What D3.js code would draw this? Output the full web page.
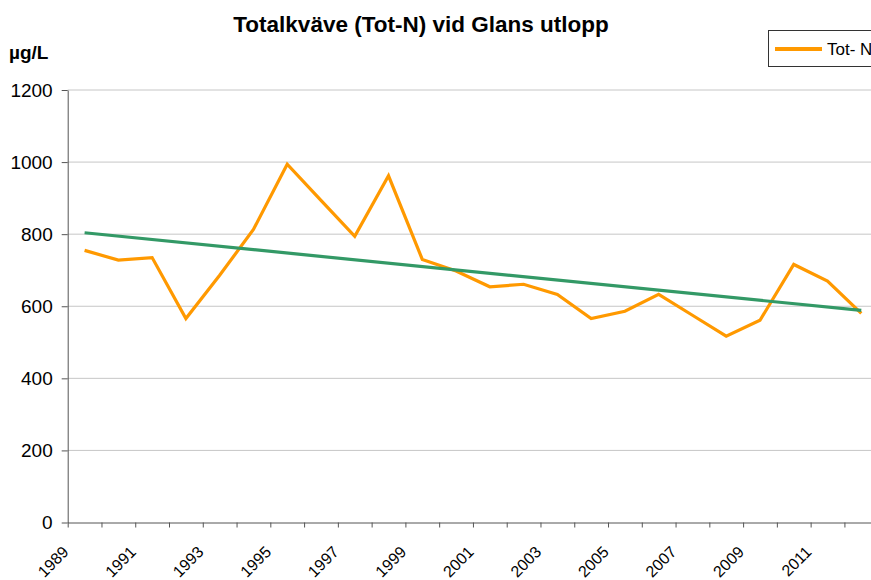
<!DOCTYPE html>
<html>
<head>
<meta charset="utf-8">
<script src="https://cdn.jsdelivr.net/npm/d3@7"></script>
<style>
  html, body { margin: 0; padding: 0; background: #fff; overflow: hidden; }
  svg { display: block; font-family: "Liberation Sans", Arial, sans-serif; }
</style>
</head>
<body>
<svg id="chart" width="871" height="580"></svg>
<script>
// ---- data ----
const years = [1989,1990,1991,1992,1993,1994,1995,1996,1997,1998,1999,2000,
               2001,2002,2003,2004,2005,2006,2007,2008,2009,2010,2011,2012];
const totN  = [755,728,735,566,686,813,994,894,794,962,730,698,
               654,661,633,566,586,633,575,517,561,716,670,580];
const yTicks = [0,200,400,600,800,1000,1200];
const xLabelYears = [1989,1991,1993,1995,1997,1999,2001,2003,2005,2007,2009,2011];
const titleText = "Totalkväve (Tot-N) vid Glans utlopp";
const unitText = "µg/L";
const legendLabel = "Tot- N";

// ---- layout ----
const svg = d3.select("#chart");
const plotLeft = 67.7, bandW = 33.77, plotTop = 90, plotBottom = 522.5;
const plotRight = plotLeft + years.length * bandW;

const x = d3.scaleBand().domain(years).range([plotLeft, plotRight]).padding(0);
const xc = d => x(d) + x.bandwidth() / 2;
const y = d3.scaleLinear().domain([0, 1200]).range([plotBottom, plotTop]);

// gridlines
svg.append("g").selectAll("line").data(yTicks.filter(v => v > 0)).join("line")
  .attr("x1", plotLeft).attr("x2", plotRight)
  .attr("y1", d => y(d)).attr("y2", d => y(d))
  .attr("stroke", "#c6c6c6").attr("stroke-width", 1);

// y axis
const yAxis = svg.append("g").attr("transform", `translate(${plotLeft},0)`)
  .call(d3.axisLeft(y).tickValues(yTicks).tickSize(6).tickSizeOuter(0).tickPadding(9).tickFormat(d3.format("d")));
yAxis.selectAll("path, line").attr("stroke", "#555");
yAxis.selectAll("text").attr("font-size", 19).attr("fill", "#000")
  .attr("font-family", '"Liberation Sans", Arial, sans-serif');

// x axis (ticks at category boundaries)
const xb = d3.scaleLinear().domain([0, years.length]).range([plotLeft, plotRight]);
const xAxis = svg.append("g").attr("transform", `translate(0,${plotBottom})`)
  .call(d3.axisBottom(xb).tickValues(d3.range(0, years.length + 1)).tickSize(5).tickSizeOuter(0).tickFormat(""));
xAxis.selectAll("path, line").attr("stroke", "#555");

// x labels
svg.append("g").selectAll("text").data(xLabelYears).join("text")
  .attr("transform", d => `translate(${xc(d) - 15},${553}) rotate(-45)`)
  .attr("text-anchor", "end")
  .attr("font-size", 16)
  .attr("fill", "#000")
  .text(d => d);

// trend line (least squares)
const n = years.length;
const mx = d3.mean(years), my = d3.mean(totN);
let sxy = 0, sxx = 0;
years.forEach((yr, i) => { sxy += (yr - mx) * (totN[i] - my); sxx += (yr - mx) * (yr - mx); });
const slope = sxy / sxx, icpt = my - slope * mx;
const trendYears = [years[0], years[n - 1]];

const line = d3.line().x(d => xc(d[0])).y(d => y(d[1]));

svg.append("path")
  .datum(years.map((yr, i) => [yr, totN[i]]))
  .attr("d", line)
  .attr("fill", "none").attr("stroke", "#FF9900").attr("stroke-width", 3.2)
  .attr("stroke-linejoin", "miter");

svg.append("path")
  .datum(trendYears.map(yr => [yr, icpt + slope * yr]))
  .attr("d", line)
  .attr("fill", "none").attr("stroke", "#339966").attr("stroke-width", 3.2);

// title
svg.append("text").attr("x", 421).attr("y", 32).attr("text-anchor", "middle")
  .attr("font-size", 22.5).attr("font-weight", "bold").text(titleText);

// unit
svg.append("text").attr("x", 9).attr("y", 59)
  .attr("font-size", 19).attr("font-weight", "bold").text(unitText);

// legend
const lg = svg.append("g");
lg.append("rect").attr("x", 768.5).attr("y", 30.5).attr("width", 120).attr("height", 36)
  .attr("fill", "#fff").attr("stroke", "#333").attr("stroke-width", 1);
lg.append("line").attr("x1", 775).attr("x2", 822).attr("y1", 49).attr("y2", 49)
  .attr("stroke", "#FF9900").attr("stroke-width", 4);
lg.append("text").attr("x", 827).attr("y", 55).attr("font-size", 17).text(legendLabel);
</script>
</body>
</html>
